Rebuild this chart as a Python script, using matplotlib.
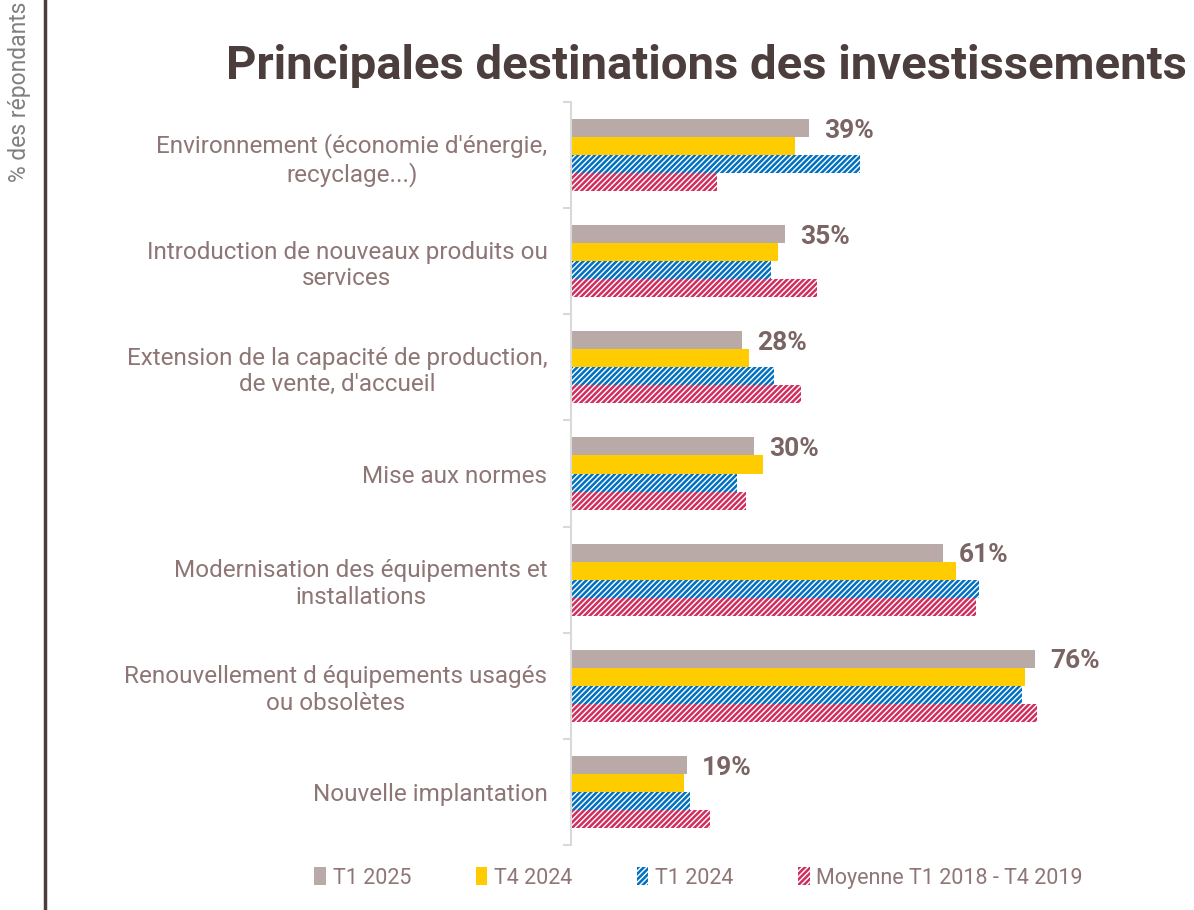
import matplotlib
matplotlib.use('Agg')
import matplotlib.pyplot as plt
from matplotlib.patches import Patch
from matplotlib.lines import Line2D
import numpy as np

categories = [
    "Environnement (économie d'énergie,\nrecyclage...)",
    "Introduction de nouveaux produits ou\nservices",
    "Extension de la capacité de production,\nde vente, d'accueil",
    "Mise aux normes",
    "Modernisation des équipements et\ninstallations",
    "Renouvellement d équipements usagés\nou obsolètes",
    "Nouvelle implantation",
]
t1_2025 = [39, 35, 28, 30, 61, 76, 19]
t4_2024 = [36.7, 33.9, 29.1, 31.5, 63.1, 74.5, 18.5]
t1_2024 = [47.3, 32.8, 33.3, 27.2, 66.9, 73.9, 19.5]
moyenne = [23.9, 40.3, 37.7, 28.7, 66.4, 76.4, 22.8]
series_names = ["T1 2025", "T4 2024", "T1 2024", "Moyenne T1 2018 - T4 2019"]

plt.rcParams['font.family'] = ['Roboto', 'DejaVu Sans']
plt.rcParams['hatch.linewidth'] = 1.8

title_col = '#4b3e3d'
label_col = '#8e7676'
value_col = '#7b6464'
grey = '#b9aaa8'
yellow = '#ffcc00'
blue = '#0070c0'
pink = '#d02e5e'
hatch = '//////'

fig = plt.figure(figsize=(11.94, 9.10), dpi=100)
ax = fig.add_axes([571 / 1194, 1 - 845 / 910, 610 / 1194, 743 / 910])

y = np.arange(len(categories))
h = 0.17
ax.barh(y - 1.5 * h, t1_2025, height=h, color=grey, linewidth=0)
ax.barh(y - 0.5 * h, t4_2024, height=h, color=yellow, linewidth=0)
ax.barh(y + 0.5 * h, t1_2024, height=h, color='white', edgecolor=blue,
        hatch=hatch, linewidth=0)
ax.barh(y + 1.5 * h, moyenne, height=h, color='white', edgecolor=pink,
        hatch=hatch, linewidth=0)

# value labels for the latest quarter
for yi, v in zip(y, t1_2025):
    ax.annotate(f"{v:.0f}%", (v, yi - 1.5 * h), xytext=(11, -2),
                textcoords='offset points', va='center', ha='left',
                fontsize=19, fontweight='bold', color=value_col)

ax.set_xlim(0, 100)
ax.set_ylim(len(categories) - 0.5, -0.5)
ax.set_yticks(y)
ax.set_yticklabels(categories, fontsize=17.5, color=label_col,
                   multialignment='center')
ax.set_yticks(np.arange(-0.5, len(categories)), minor=True)
ax.tick_params(axis='y', which='major', length=0, pad=17)
ax.tick_params(axis='y', which='minor', length=6, width=1.5, color='#d9d9d9')
ax.set_xticks([])
for s in ['top', 'right', 'bottom']:
    ax.spines[s].set_visible(False)
ax.spines['left'].set_color('#d9d9d9')
ax.spines['left'].set_linewidth(1.5)

fig.text(0.592, 0.927, "Principales destinations des investissements",
         ha='center', va='center', fontsize=34, fontweight='bold',
         color=title_col)

# left rule and rotated unit label
fig.add_artist(Line2D([45 / 1194, 45 / 1194], [0, 1], color=title_col,
                      linewidth=2.5, transform=fig.transFigure))
fig.text(20 / 1194, 0.998, "% des répondants", rotation=90, ha='center',
         va='top', fontsize=16.5, color='#808080')

handles = [
    Patch(facecolor=grey, linewidth=0),
    Patch(facecolor=yellow, linewidth=0),
    Patch(facecolor='white', edgecolor=blue, hatch=hatch, linewidth=0),
    Patch(facecolor='white', edgecolor=pink, hatch=hatch, linewidth=0),
]
leg = fig.legend(handles, series_names, loc='center', ncol=4,
                 bbox_to_anchor=(0.585, 0.035), frameon=False, fontsize=15.5,
                 handlelength=0.55, handleheight=0.9, handletextpad=0.3,
                 columnspacing=3.0, labelcolor=label_col)

fig.savefig('out.png', dpi=100)
